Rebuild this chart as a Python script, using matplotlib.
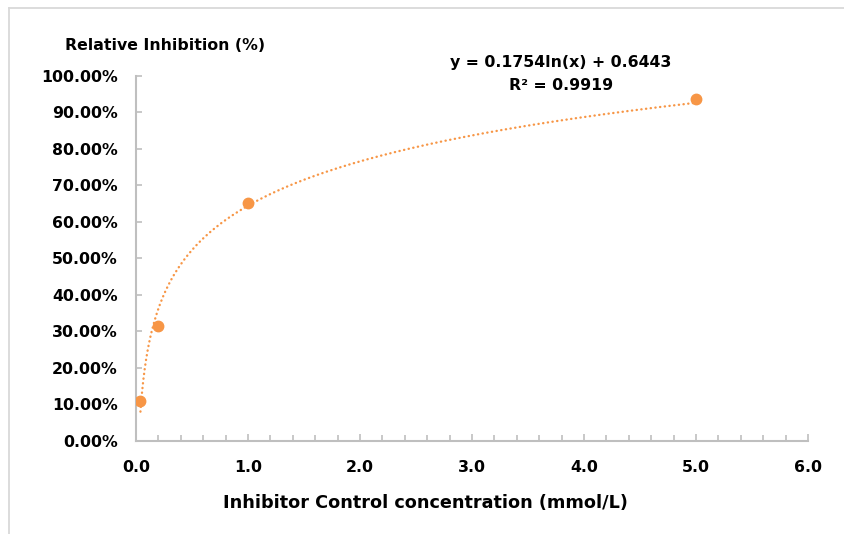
import numpy as np
import matplotlib.pyplot as plt
from matplotlib.lines import Line2D
from matplotlib.ticker import MultipleLocator, FuncFormatter

# measured points (concentration in mmol/L, inhibition as fraction)
conc = [0.04, 0.2, 1.0, 5.0]
inhibition = [0.109, 0.315, 0.651, 0.937]

# logarithmic trendline as printed on the chart
fit_a = 0.1754
fit_b = 0.6443
r_squared = 0.9919

orange = '#F79646'
grey = '#BFBFBF'

plt.rcParams['font.family'] = 'DejaVu Sans'
plt.rcParams['font.weight'] = 'bold'

fig = plt.figure(figsize=(8.44, 5.34), dpi=100)
# chart-area border, only top and left edges fall inside the image
bx, by = 9 / 844, 1 - 8 / 534
fig.lines.append(Line2D([bx, 1.2], [by, by], transform=fig.transFigure,
                        color='#D9D9D9', linewidth=1.3))
fig.lines.append(Line2D([bx, bx], [-0.2, by], transform=fig.transFigure,
                        color='#D9D9D9', linewidth=1.3))

ax = fig.add_axes([0.1611, 0.1747, 0.7962, 0.683])

xs = np.linspace(min(conc), max(conc), 400)
ax.plot(xs, fit_a * np.log(xs) + fit_b, color=orange, linestyle=(0, (0.1, 1.9)),
        linewidth=1.7, dash_capstyle='round', zorder=2)
ax.plot(conc, inhibition, 'o', color=orange, markersize=7.5, zorder=3)

ax.set_xlim(0, 6)
ax.set_ylim(0, 1)
ax.xaxis.set_major_locator(MultipleLocator(1))
ax.xaxis.set_minor_locator(MultipleLocator(0.2))
ax.yaxis.set_major_locator(MultipleLocator(0.1))
ax.xaxis.set_major_formatter(FuncFormatter(lambda v, p: '%.1f' % v))
ax.yaxis.set_major_formatter(FuncFormatter(lambda v, p: '%.2f%%' % (v * 100)))

for s in ['top', 'right']:
    ax.spines[s].set_visible(False)
for s in ['left', 'bottom']:
    ax.spines[s].set_color(grey)
    ax.spines[s].set_linewidth(1.5)

ax.tick_params(axis='both', which='both', direction='in', color=grey, width=1.2)
ax.tick_params(axis='x', which='major', length=5, pad=14, labelsize=11.3)
ax.tick_params(axis='x', which='minor', length=4)
ax.tick_params(axis='y', which='major', length=4, pad=13, labelsize=11.3)
for lbl in ax.get_xticklabels() + ax.get_yticklabels():
    lbl.set_fontweight('bold')

fig.text(425 / 844, 1 - 503 / 534, 'Inhibitor Control concentration (mmol/L)',
         ha='center', va='center', fontsize=12.7, fontweight='bold')
fig.text(65 / 844, 1 - 45 / 534, 'Relative Inhibition (%)',
         ha='left', va='center', fontsize=11.3, fontweight='bold')

fig.text(561 / 844, 1 - 62 / 534, 'y = %.4fln(x) + %.4f' % (fit_a, fit_b),
         ha='center', va='center', fontsize=11.3, fontweight='bold')
fig.text(561 / 844, 1 - 85 / 534, 'R² = %.4f' % r_squared,
         ha='center', va='center', fontsize=11.3, fontweight='bold')

fig.savefig('out.png', dpi=100)
